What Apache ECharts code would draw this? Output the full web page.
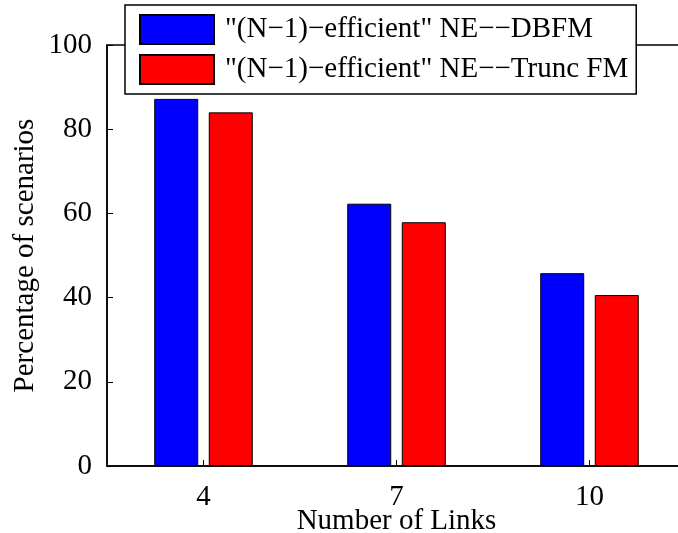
<!DOCTYPE html>
<html>
<head>
<meta charset="utf-8">
<script src="https://cdn.jsdelivr.net/npm/echarts@6/dist/echarts.min.js"></script>
<style>
  html, body { margin: 0; padding: 0; background: #fff; }
  #chart { width: 678px; height: 533px; }
</style>
</head>
<body>
<div id="chart"></div>
<script>
// Share of scenarios with an "(N-1)-efficient" Nash equilibrium, per link count
const linkCounts = ['4', '7', '10'];
const dbfmValues = [87.2, 62.3, 45.8];
const truncFmValues = [84.0, 57.9, 40.6];
const yTicks = [0, 20, 40, 60, 80, 100];

const seriesNames = [
  '"(N\u22121)\u2212efficient" NE\u2212\u2212DBFM',
  '"(N\u22121)\u2212efficient" NE\u2212\u2212Trunc FM'
];

const FONT = "'Liberation Serif'";
const FS = 29;

const chart = echarts.init(document.getElementById('chart'), null, { renderer: 'canvas' });

chart.setOption({
  animation: false,
  backgroundColor: '#ffffff',
  textStyle: { fontFamily: FONT, color: '#000' },
  grid: {
    left: 107,
    top: 45,
    width: 579,
    height: 421,
    outerBoundsMode: 'none',
    containLabel: false,
    show: true,
    borderColor: '#000',
    borderWidth: 1.5,
    backgroundColor: 'transparent'
  },
  legend: {
    left: 125,
    top: 5,
    orient: 'vertical',
    icon: 'rect',
    itemWidth: 74,
    itemHeight: 29,
    itemGap: 9,
    padding: [9, 8, 9, 14],
    backgroundColor: '#fff',
    borderColor: '#000',
    borderWidth: 1.5,
    selectedMode: false,
    textStyle: {
      fontFamily: FONT,
      fontSize: FS,
      color: '#000',
      padding: [0, 0, 0, 6]
    }
  },
  xAxis: {
    type: 'category',
    data: linkCounts,
    name: 'Number of Links',
    nameLocation: 'middle',
    nameGap: 41,
    nameMoveOverlap: false,
    nameTextStyle: { fontFamily: FONT, fontSize: FS, color: '#000' },
    axisLine: { show: true, lineStyle: { color: '#000', width: 1.5 } },
    axisTick: { show: true, inside: true, alignWithLabel: true, length: 6, lineStyle: { color: '#000', width: 1 } },
    axisLabel: { fontFamily: FONT, fontSize: FS, color: '#000', margin: 17 },
    splitLine: { show: false }
  },
  yAxis: {
    type: 'value',
    min: yTicks[0],
    max: yTicks[yTicks.length - 1],
    interval: yTicks[1] - yTicks[0],
    name: 'Percentage of scenarios',
    nameLocation: 'middle',
    nameGap: 67,
    nameMoveOverlap: false,
    nameTextStyle: { fontFamily: FONT, fontSize: FS, color: '#000' },
    axisLine: { show: true, lineStyle: { color: '#000', width: 1.5 } },
    axisTick: { show: true, inside: true, length: 6, lineStyle: { color: '#000', width: 1 } },
    axisLabel: { fontFamily: FONT, fontSize: FS, color: '#000', margin: 15 },
    splitLine: { show: false }
  },
  series: [
    {
      name: seriesNames[0],
      type: 'bar',
      data: dbfmValues,
      barWidth: 44,
      barGap: '24%',
      itemStyle: { color: '#0000ff', borderColor: '#000', borderWidth: 1 }
    },
    {
      name: seriesNames[1],
      type: 'bar',
      data: truncFmValues,
      barWidth: 44,
      barGap: '24%',
      itemStyle: { color: '#ff0000', borderColor: '#000', borderWidth: 1 }
    }
  ]
});
</script>
</body>
</html>
